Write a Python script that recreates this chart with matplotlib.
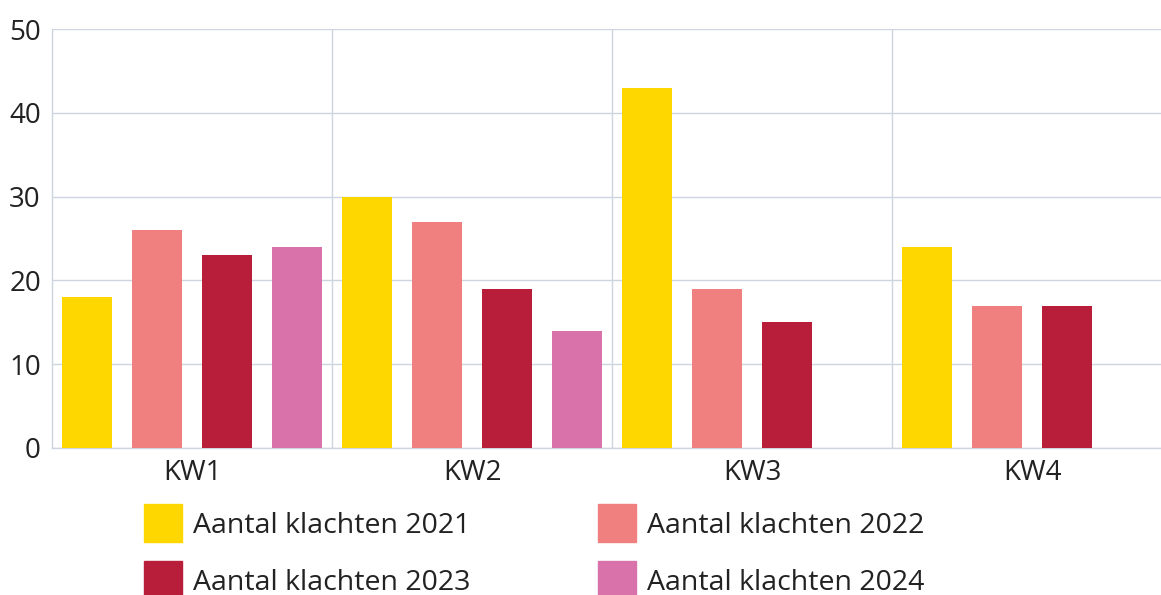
import numpy as np
import matplotlib.pyplot as plt
from matplotlib.lines import Line2D

categories = ['KW1', 'KW2', 'KW3', 'KW4']
series_names = ['Aantal klachten 2021', 'Aantal klachten 2022',
                'Aantal klachten 2023', 'Aantal klachten 2024']
klachten_2021 = [18, 30, 43, 24]
klachten_2022 = [26, 27, 19, 17]
klachten_2023 = [23, 19, 15, 17]
klachten_2024 = [24, 14, np.nan, np.nan]
colors = ['#FFD700', '#F08080', '#B81E3A', '#D971AA']

plt.rcParams['font.family'] = ['Open Sans', 'DejaVu Sans']
grid_color = '#CCD5E0'

fig = plt.figure(figsize=(11.61, 5.95), dpi=100)
# plot area runs a little past the right edge of the figure
ax = fig.add_axes([52 / 1161, 147 / 595, 1120 / 1161, 419 / 595])

x = np.arange(len(categories))
all_series = [klachten_2021, klachten_2022, klachten_2023, klachten_2024]
step = 0.25
width = 0.182
for i, (vals, col) in enumerate(zip(all_series, colors)):
    ax.bar(x + (i - 1.5) * step, vals, width, color=col, zorder=3)

ax.set_xlim(-0.5, 3.5)
ax.set_ylim(0, 50)
ax.set_yticks(range(0, 51, 10))
ax.set_xticks(x)
ax.set_xticklabels(categories)
ax.set_xticks(x[:-1] + 0.5, minor=True)

ax.grid(axis='y', color=grid_color, lw=1, zorder=0)
ax.grid(axis='x', which='minor', color=grid_color, lw=1, zorder=0)
ax.tick_params(axis='both', which='both', length=0, labelsize=20, colors='#222222')
ax.tick_params(axis='y', pad=8)
ax.tick_params(axis='x', pad=8)
for side in ['top', 'right']:
    ax.spines[side].set_visible(False)
for side in ['left', 'bottom']:
    ax.spines[side].set_color(grid_color)
    ax.spines[side].set_linewidth(1)

# legend is filled row by row: 2021, 2022 / 2023, 2024
order = [0, 2, 1, 3]
handles = [Line2D([], [], marker='s', ls='', markersize=27, markerfacecolor=colors[i],
                  markeredgecolor=colors[i]) for i in order]
labels = [series_names[i] for i in order]
fig.legend(handles, labels, ncol=2, loc='upper left',
           bbox_to_anchor=(130 / 1161, 1 - 498 / 595), frameon=False, fontsize=20.5,
           handlelength=1.3, handletextpad=0.4, columnspacing=4.5,
           labelspacing=1.02, borderpad=0, labelcolor='#222222')

fig.savefig('out.png', dpi=100)
